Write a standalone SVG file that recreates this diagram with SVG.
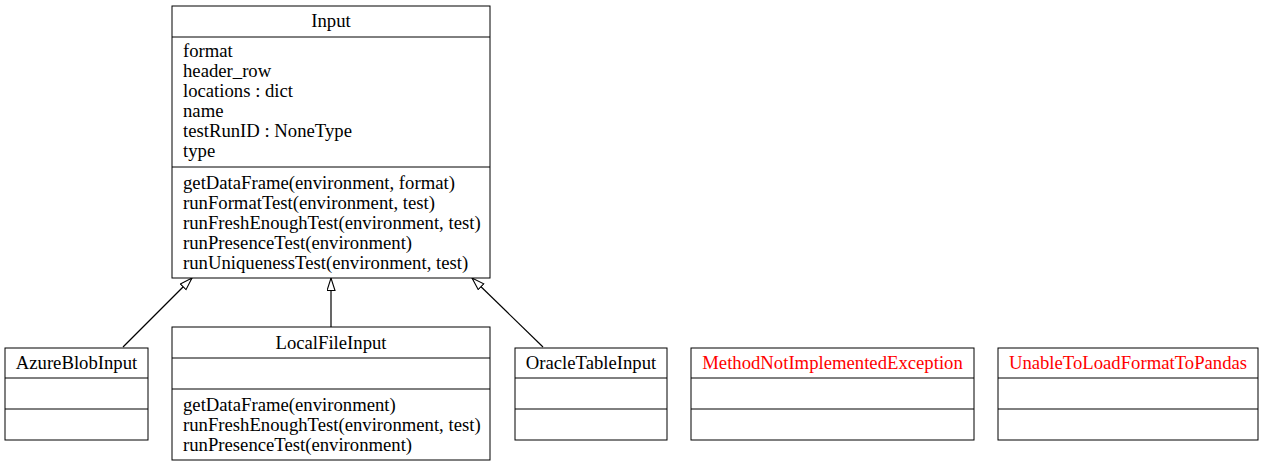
<svg xmlns="http://www.w3.org/2000/svg" width="1264" height="467" viewBox="0 0 1264 467">
<style>
  .box { fill: #ffffff; stroke: #000000; stroke-width: 1; }
  .div { stroke: #000000; stroke-width: 1; }
  text { font-family: "Liberation Serif", "Times New Roman", serif; font-size: 18.7px; fill: #000000; }
  .t { text-anchor: middle; }
  .red { fill: #ff0000; }
  .edge { stroke: #000000; stroke-width: 1.2; fill: none; marker-end: url(#tri); }
</style>
<defs>
  <marker id="tri" markerUnits="userSpaceOnUse" markerWidth="15" markerHeight="11" refX="13" refY="4.5" orient="auto">
    <path d="M0.5,0.5 L13,4.5 L0.5,8.5 Z" fill="#ffffff" stroke="#000000" stroke-width="1.1"/>
  </marker>
</defs>
<rect width="1264" height="467" fill="#ffffff"/>
<g id="connectors">
  <path class="edge" d="M123,347 L192,278"/>
  <path class="edge" d="M331,327 L331,278"/>
  <path class="edge" d="M543,347 L472,278"/>
</g>
<g id="Input">
  <rect class="box" x="172" y="6" width="318" height="272"/>
  <line class="div" x1="172" y1="37" x2="490" y2="37"/>
  <line class="div" x1="172" y1="167" x2="490" y2="167"/>
  <text class="t" x="331" y="27">Input</text>
  <text x="183" y="57">format</text>
  <text x="183" y="77">header_row</text>
  <text x="183" y="97">locations : dict</text>
  <text x="183" y="117">name</text>
  <text x="183" y="137">testRunID : NoneType</text>
  <text x="183" y="157">type</text>
  <text x="183" y="189">getDataFrame(environment, format)</text>
  <text x="183" y="209">runFormatTest(environment, test)</text>
  <text x="183" y="229">runFreshEnoughTest(environment, test)</text>
  <text x="183" y="249">runPresenceTest(environment)</text>
  <text x="183" y="269">runUniquenessTest(environment, test)</text>
</g>
<g id="AzureBlobInput">
  <rect class="box" x="5" y="348" width="143" height="92"/>
  <line class="div" x1="5" y1="378" x2="148" y2="378"/>
  <line class="div" x1="5" y1="409" x2="148" y2="409"/>
  <text class="t" x="76.5" y="369">AzureBlobInput</text>
</g>
<g id="LocalFileInput">
  <rect class="box" x="172" y="327" width="318" height="133"/>
  <line class="div" x1="172" y1="358" x2="490" y2="358"/>
  <line class="div" x1="172" y1="389" x2="490" y2="389"/>
  <text class="t" x="331" y="349">LocalFileInput</text>
  <text x="183" y="411">getDataFrame(environment)</text>
  <text x="183" y="431">runFreshEnoughTest(environment, test)</text>
  <text x="183" y="451">runPresenceTest(environment)</text>
</g>
<g id="OracleTableInput">
  <rect class="box" x="515" y="348" width="152" height="92"/>
  <line class="div" x1="515" y1="378" x2="667" y2="378"/>
  <line class="div" x1="515" y1="409" x2="667" y2="409"/>
  <text class="t" x="591" y="369">OracleTableInput</text>
</g>
<g id="MethodNotImplementedException">
  <rect class="box" x="691" y="348" width="283" height="92"/>
  <line class="div" x1="691" y1="378" x2="974" y2="378"/>
  <line class="div" x1="691" y1="409" x2="974" y2="409"/>
  <text class="t red" x="832.5" y="369">MethodNotImplementedException</text>
</g>
<g id="UnableToLoadFormatToPandas">
  <rect class="box" x="998" y="348" width="260" height="92"/>
  <line class="div" x1="998" y1="378" x2="1258" y2="378"/>
  <line class="div" x1="998" y1="409" x2="1258" y2="409"/>
  <text class="t red" x="1128" y="369">UnableToLoadFormatToPandas</text>
</g>
</svg>
